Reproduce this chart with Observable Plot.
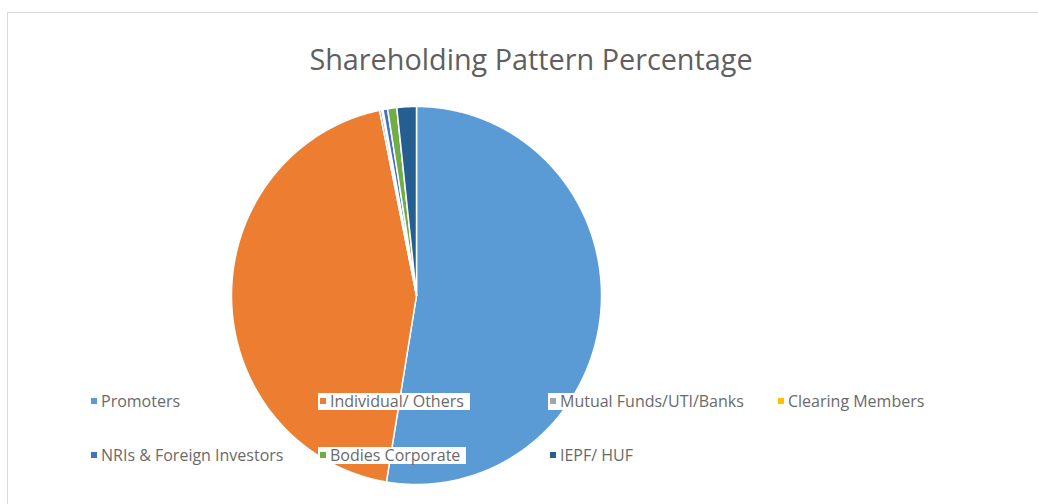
<!DOCTYPE html>
<html>
<head>
<meta charset="utf-8">
<script src="https://cdn.jsdelivr.net/npm/d3@7"></script>
<script src="https://cdn.jsdelivr.net/npm/@observablehq/plot@0.6"></script>
<style>
  html, body { margin: 0; padding: 0; background: #fff; }
  #wrap { position: relative; width: 1038px; height: 504px; overflow: hidden; background: #fff; }
  #frame { position: absolute; left: 7px; top: 12px; width: 1100px; height: 600px; border: 1px solid #D9D9D9; box-sizing: border-box; }
  #title { position: absolute; left: 12px; width: 1038px; top: 45px; line-height: 28.8px; text-align: center; font-family: "Open Sans", sans-serif; font-size: 28.8px; color: #5f5f5f; z-index: 2; }
  #chart { position: absolute; left: 0; top: 0; }
  #legend { position: absolute; left: 89px; top: 391px; display: grid; grid-template-columns: 229px 230px 228px 230px; row-gap: 34px; z-index: 3; font-family: "Open Sans", sans-serif; font-size: 16px; color: #6a6a6a; }
  .item { display: flex; align-items: center; height: 20px; }
  .lab { background: #fff; padding: 0 6px 0 2px; line-height: 17px; display: flex; align-items: center; }
  .sw { width: 6px; height: 6px; margin-right: 4px; flex: none; }
</style>
</head>
<body>
<div id="wrap">
  <div id="frame"></div>
  <div id="chart"></div>
  <div id="title">Shareholding Pattern Percentage</div>
  <div id="legend"></div>
</div>
<script>
const categories = ["Promoters", "Individual/ Others", "Mutual Funds/UTI/Banks", "Clearing Members", "NRIs & Foreign Investors", "Bodies Corporate", "IEPF/ HUF"];
const shares = [52.6, 44.2, 0.2, 0.1, 0.4, 0.8, 1.7];
const colors = ["#5B9BD5", "#ED7D31", "#A5A5A5", "#FFC000", "#4472C4", "#70AD47", "#255E91"];
const legendOrder = [0, 1, 2, 3, 4, 5, 6];

const table = categories.map((c, i) => ({category: c, value: shares[i]}));
const arcs = d3.pie().sort(null).value(d => d.value)(table);

// polygon outline for each slice, built from the pie angles
const pts = [];
arcs.forEach(a => {
  const c = a.data.category;
  pts.push({category: c, x: 0, y: 0});
  const n = Math.max(2, Math.ceil((a.endAngle - a.startAngle) / 0.005));
  for (let k = 0; k <= n; k++) {
    const t = a.startAngle + (a.endAngle - a.startAngle) * k / n;
    pts.push({category: c, x: Math.sin(t), y: Math.cos(t)});
  }
});

const plot = Plot.plot({
  width: 1038,
  height: 504,
  margin: 0,
  x: {domain: [-1, 1], range: [231, 601], axis: null},
  y: {domain: [-1, 1], range: [484, 106], axis: null},
  color: {domain: categories, range: colors},
  style: {background: "transparent"},
  marks: [
    Plot.line(pts, {x: "x", y: "y", z: "category", fill: "category", stroke: "#fff", strokeWidth: 1.5, curve: "linear-closed", strokeLinejoin: "round"})
  ]
});
document.getElementById("chart").appendChild(plot);

const leg = document.getElementById("legend");
legendOrder.forEach(i => {
  const it = document.createElement("div");
  it.className = "item";
  const lab = document.createElement("div");
  lab.className = "lab";
  const sw = document.createElement("span");
  sw.className = "sw";
  sw.style.background = colors[i];
  lab.appendChild(sw);
  lab.appendChild(document.createTextNode(categories[i]));
  it.appendChild(lab);
  leg.appendChild(it);
});
</script>
</body>
</html>
